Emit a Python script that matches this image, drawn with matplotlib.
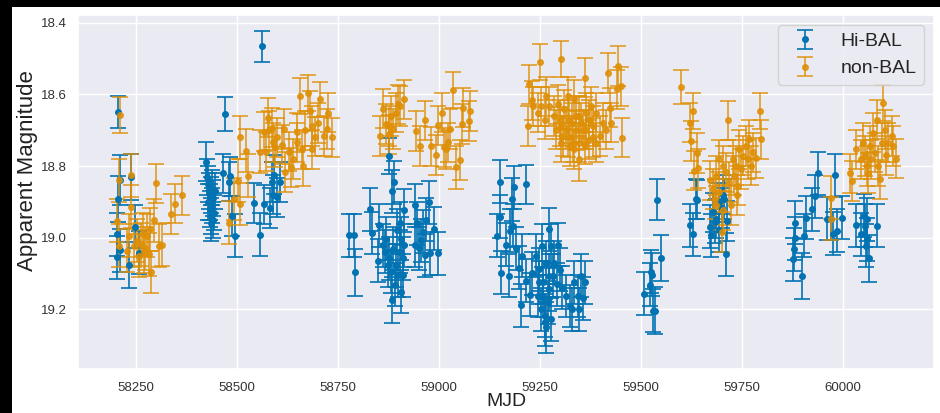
import matplotlib
matplotlib.use('Agg')
import matplotlib.pyplot as plt
import seaborn as sns
from matplotlib.patches import Rectangle

# ---------------- data ----------------
hibal_mjd = [
    58206, 58209, 58205, 58237, 58202, 58210, 58233, 58246, 58257, 58203,
    58422, 58426, 58428, 58430, 58432, 58433, 58435, 58436, 58437, 58438,
    58440, 58441, 58443, 58445, 58434, 58429, 58471, 58465, 58480, 58483,
    58487, 58494, 58541, 58556, 58562, 58567, 58582, 58586, 58592, 58598,
    58606, 58588,
    58776, 58788, 58791, 58829, 58835, 58850, 58848, 58877, 58888, 58884,
    58912, 58940, 58975, 58987, 58996, 58939, 58956, 58960, 58964, 58977,
    58884, 58906, 58860, 58869, 58877, 58885, 58894, 58902, 58910, 58914,
    58898, 58890, 58865, 58873, 58881, 58906, 58910, 58895, 58903, 58945,
    58950, 58968,
    59151, 59186, 59214, 59180, 59151, 59144, 59182, 59176, 59153, 59174,
    59197, 59202, 59224, 59295, 59273, 59291, 59265, 59277, 59314, 59323,
    59343, 59360, 59351, 59335, 59346, 59240, 59248, 59257, 59265, 59273,
    59244, 59252, 59261, 59269, 59281, 59285, 59277, 59255, 59247, 59258,
    59271, 59263, 59165, 59190, 59205, 59230, 59215, 59300, 59305, 59330,
    59355,
    59540, 59550, 59508, 59521, 59525, 59526, 59529, 59535, 59622, 59628,
    59635, 59639, 59671, 59682, 59702, 59699, 59710, 59713, 59692, 59686,
    59677, 59694, 59706, 59674,
    59882, 59880, 59878, 59876, 59898, 59903, 59908, 59923, 59931, 59938,
    59980, 59969, 59974, 59986, 59997, 59959, 60033, 60045, 60051, 60058,
    60064, 60083, 60054, 60056, 60059,
]
hibal_mag = [
    18.650, 18.840, 18.892, 18.830, 19.055, 19.035, 19.077, 18.969, 19.042, 18.990,
    18.788, 18.830, 18.850, 18.870, 18.900, 18.920, 18.880, 18.940, 18.860, 18.910,
    18.950, 18.890, 18.930, 18.870, 18.960, 18.900, 18.654, 18.820, 18.844, 18.829,
    18.940, 18.995, 18.903, 18.992, 18.466, 18.907, 18.917, 18.845, 18.824, 18.887,
    18.845, 18.880,
    18.994, 18.994, 19.097, 18.921, 18.987, 18.966, 19.065, 18.771, 18.845, 18.871,
    18.924, 18.910, 18.901, 18.975, 19.044, 19.021, 19.007, 18.984, 19.049, 19.044,
    19.174, 19.151, 19.021, 19.003, 19.058, 19.031, 19.077, 19.040, 19.058, 19.021,
    19.105, 19.132, 19.040, 19.077, 19.095, 19.003, 19.105, 18.980, 18.960, 18.960,
    19.030, 18.950,
    18.844, 18.859, 18.851, 18.893, 18.941, 18.995, 18.967, 18.981, 19.098, 19.107,
    19.084, 19.189, 19.160, 19.020, 18.977, 19.130, 19.251, 19.228, 19.163, 19.191,
    19.163, 19.125, 19.107, 19.125, 19.200, 19.051, 19.088, 19.125, 19.070, 19.144,
    19.163, 19.200, 19.218, 19.181, 19.107, 19.070, 19.023, 19.023, 19.125, 19.163,
    19.107, 19.237, 19.020, 19.030, 19.050, 19.100, 19.120, 19.090, 19.140, 19.200,
    19.170,
    18.894, 19.058, 19.157, 19.132, 19.095, 19.103, 19.204, 19.204, 18.966, 18.990,
    18.892, 18.894, 18.970, 18.956, 18.880, 18.917, 19.047, 18.954, 18.980, 18.947,
    18.929, 18.901, 18.892, 18.994,
    18.958, 19.002, 19.032, 19.060, 19.107, 18.995, 18.944, 18.921, 18.884, 18.820,
    18.826, 18.947, 18.989, 18.981, 18.944, 18.947, 18.965, 18.991, 18.939, 19.005,
    19.058, 18.967, 18.967, 19.023, 18.948,
]
hibal_err = [
    0.045, 0.070, 0.065, 0.065, 0.060, 0.060, 0.065, 0.060, 0.060, 0.060,
    0.055, 0.050, 0.050, 0.050, 0.050, 0.050, 0.050, 0.050, 0.050, 0.050,
    0.050, 0.050, 0.050, 0.050, 0.050, 0.050, 0.047, 0.055, 0.055, 0.055,
    0.055, 0.060, 0.055, 0.060, 0.042, 0.055, 0.055, 0.055, 0.055, 0.055,
    0.055, 0.055,
    0.060, 0.060, 0.065, 0.060, 0.060, 0.060, 0.060, 0.050, 0.060, 0.060,
    0.060, 0.060, 0.060, 0.060, 0.060, 0.060, 0.060, 0.060, 0.060, 0.060,
    0.065, 0.060, 0.060, 0.060, 0.060, 0.060, 0.060, 0.060, 0.060, 0.060,
    0.060, 0.060, 0.060, 0.060, 0.060, 0.060, 0.060, 0.060, 0.060, 0.060,
    0.060, 0.060,
    0.060, 0.060, 0.055, 0.060, 0.060, 0.060, 0.060, 0.060, 0.060, 0.060,
    0.060, 0.060, 0.060, 0.060, 0.060, 0.060, 0.070, 0.060, 0.060, 0.060,
    0.060, 0.060, 0.060, 0.060, 0.060, 0.060, 0.060, 0.060, 0.060, 0.060,
    0.060, 0.060, 0.060, 0.060, 0.060, 0.060, 0.060, 0.060, 0.060, 0.060,
    0.060, 0.065, 0.060, 0.060, 0.060, 0.060, 0.060, 0.060, 0.060, 0.060,
    0.060,
    0.057, 0.064, 0.060, 0.060, 0.060, 0.060, 0.060, 0.065, 0.060, 0.060,
    0.055, 0.055, 0.060, 0.060, 0.055, 0.055, 0.060, 0.055, 0.060, 0.055,
    0.055, 0.055, 0.055, 0.060,
    0.060, 0.060, 0.060, 0.060, 0.065, 0.060, 0.060, 0.060, 0.060, 0.060,
    0.060, 0.060, 0.060, 0.060, 0.060, 0.060, 0.060, 0.060, 0.060, 0.060,
    0.065, 0.060, 0.060, 0.060, 0.060,
]

nonbal_mjd = [
    58209, 58207, 58238, 58203, 58236, 58232, 58207, 58298, 58364, 58345,
    58335, 58294, 58287, 58313, 58306, 58267, 58277, 58252, 58261, 58273,
    58244, 58281, 58269, 58257, 58284, 58228,
    58506, 58522, 58526, 58503, 58507, 58480, 58493, 58557, 58567, 58576,
    58586, 58588, 58594, 58598, 58616, 58619, 58633, 58639, 58649, 58656,
    58675, 58681, 58685, 58693, 58705, 58714, 58722, 58726, 58734, 58660,
    58664, 58648, 58685, 58580, 58572, 58610, 58628, 58668, 58700,
    58860, 58854, 58869, 58875, 58881, 58892, 58904, 58912, 58885, 58877,
    58898, 58942, 58953, 58964, 58980, 58991, 58998, 59006, 59012, 59018,
    59035, 59041, 59051, 59056, 59060, 59074, 59076, 59027, 59022,
    59219, 59222, 59249, 59302, 59229, 59252, 59265, 59294, 59298, 59314,
    59347, 59331, 59364, 59360, 59417, 59442, 59450, 59440, 59452, 59422,
    59405, 59389, 59376, 59372, 59339, 59322, 59310, 59306, 59290, 59285,
    59273, 59261, 59244, 59232, 59347, 59355, 59380, 59397, 59413, 59425,
    59323, 59335, 59302, 59364, 59389, 59351, 59318, 59335, 59300, 59320,
    59340, 59360, 59380, 59330, 59345, 59370,
    59599, 59628, 59624, 59630, 59639, 59641, 59620, 59715, 59671, 59677,
    59686, 59694, 59702, 59710, 59723, 59737, 59727, 59735, 59743, 59752,
    59760, 59768, 59776, 59785, 59794, 59797, 59764, 59772, 59694, 59686,
    59699, 59702, 59682, 59718, 59731, 59739, 59747,
    59971, 59969, 60017, 60022, 60033, 60045, 60054, 60058, 60062, 60066,
    60074, 60083, 60087, 60091, 60099, 60103, 60097, 60111, 60120, 60124,
    60130, 60107, 60078, 60070, 60050,
]
nonbal_mag = [
    18.658, 18.840, 18.826, 18.953, 18.914, 18.995, 19.023, 18.848, 18.882, 18.905,
    18.934, 18.952, 19.096, 19.020, 19.023, 18.990, 18.995, 19.009, 19.018, 19.030,
    19.023, 19.046, 19.040, 19.050, 18.976, 19.037,
    18.720, 18.757, 18.827, 18.841, 18.906, 18.958, 18.892, 18.760, 18.704, 18.665,
    18.693, 18.734, 18.748, 18.720, 18.697, 18.817, 18.804, 18.780, 18.734, 18.605,
    18.595, 18.646, 18.688, 18.718, 18.614, 18.716, 18.697, 18.651, 18.720, 18.753,
    18.800, 18.706, 18.753, 18.700, 18.760, 18.740, 18.760, 18.700, 18.680,
    18.640, 18.716, 18.683, 18.688, 18.660, 18.651, 18.632, 18.614, 18.697, 18.711,
    18.628, 18.702, 18.744, 18.672, 18.745, 18.769, 18.686, 18.651, 18.748, 18.753,
    18.588, 18.804, 18.783, 18.683, 18.637, 18.674, 18.646, 18.697, 18.734,
    18.688, 18.572, 18.510, 18.500, 18.616, 18.633, 18.605, 18.628, 18.670, 18.698,
    18.781, 18.735, 18.698, 18.553, 18.540, 18.521, 18.577, 18.586, 18.721, 18.637,
    18.679, 18.651, 18.633, 18.726, 18.660, 18.670, 18.642, 18.716, 18.698, 18.660,
    18.633, 18.670, 18.651, 18.633, 18.735, 18.698, 18.688, 18.716, 18.698, 18.679,
    18.744, 18.753, 18.735, 18.651, 18.735, 18.679, 18.605, 18.614, 18.690, 18.720,
    18.700, 18.740, 18.720, 18.680, 18.660, 18.670,
    18.580, 18.646, 18.730, 18.813, 18.764, 18.806, 18.679, 18.672, 18.840, 18.864,
    18.827, 18.781, 18.799, 18.818, 18.910, 18.881, 18.781, 18.799, 18.753, 18.771,
    18.744, 18.725, 18.762, 18.778, 18.646, 18.725, 18.781, 18.799, 18.873, 18.910,
    18.984, 18.924, 18.892, 18.845, 18.827, 18.855, 18.808,
    18.888, 18.947, 18.820, 18.842, 18.753, 18.781, 18.772, 18.800, 18.819, 18.744,
    18.707, 18.670, 18.800, 18.837, 18.623, 18.698, 18.735, 18.735, 18.716, 18.744,
    18.779, 18.770, 18.763, 18.781, 18.735,
]
nonbal_err = [
    0.050, 0.060, 0.060, 0.060, 0.060, 0.060, 0.060, 0.055, 0.055, 0.055,
    0.055, 0.060, 0.060, 0.060, 0.060, 0.060, 0.060, 0.060, 0.060, 0.060,
    0.060, 0.060, 0.060, 0.060, 0.060, 0.060,
    0.060, 0.060, 0.060, 0.060, 0.060, 0.060, 0.060, 0.060, 0.055, 0.055,
    0.055, 0.055, 0.055, 0.055, 0.055, 0.055, 0.055, 0.055, 0.055, 0.050,
    0.050, 0.055, 0.055, 0.055, 0.050, 0.055, 0.055, 0.055, 0.055, 0.055,
    0.055, 0.055, 0.055, 0.055, 0.055, 0.055, 0.055, 0.055, 0.055,
    0.055, 0.055, 0.055, 0.055, 0.055, 0.055, 0.055, 0.055, 0.055, 0.055,
    0.055, 0.055, 0.055, 0.055, 0.055, 0.055, 0.055, 0.055, 0.055, 0.055,
    0.050, 0.060, 0.055, 0.055, 0.055, 0.055, 0.055, 0.055, 0.055,
    0.055, 0.055, 0.050, 0.050, 0.055, 0.055, 0.055, 0.055, 0.055, 0.055,
    0.060, 0.055, 0.055, 0.055, 0.055, 0.055, 0.055, 0.055, 0.055, 0.055,
    0.055, 0.055, 0.055, 0.055, 0.055, 0.055, 0.055, 0.055, 0.055, 0.055,
    0.055, 0.055, 0.055, 0.055, 0.055, 0.055, 0.055, 0.055, 0.055, 0.055,
    0.055, 0.055, 0.055, 0.055, 0.055, 0.055, 0.055, 0.055, 0.055, 0.055,
    0.055, 0.055, 0.055, 0.055, 0.055, 0.055,
    0.047, 0.050, 0.055, 0.055, 0.055, 0.055, 0.055, 0.055, 0.055, 0.055,
    0.055, 0.055, 0.055, 0.055, 0.055, 0.055, 0.055, 0.055, 0.055, 0.055,
    0.055, 0.055, 0.055, 0.055, 0.050, 0.055, 0.055, 0.055, 0.055, 0.055,
    0.055, 0.055, 0.055, 0.055, 0.055, 0.055, 0.055,
    0.060, 0.060, 0.055, 0.055, 0.055, 0.055, 0.055, 0.055, 0.055, 0.055,
    0.055, 0.055, 0.055, 0.055, 0.050, 0.055, 0.055, 0.055, 0.055, 0.055,
    0.055, 0.055, 0.055, 0.055, 0.055,
]

xticks = [58250, 58500, 58750, 59000, 59250, 59500, 59750, 60000]
yticks = [18.4, 18.6, 18.8, 19.0, 19.2]

assert len(hibal_mjd) == len(hibal_mag) == len(hibal_err)
assert len(nonbal_mjd) == len(nonbal_mag) == len(nonbal_err)

# ---------------- plot ----------------
sns.set_theme(style='darkgrid')
plt.rcParams['font.family'] = ['Liberation Sans', 'DejaVu Sans']

blue = '#0173b2'
orange = '#de8f05'

W, H = 940, 413
fig = plt.figure(figsize=(W / 100, H / 100), dpi=100, facecolor='black')
# white page inside the dark screenshot border
fig.patches.append(Rectangle((12 / W, 0), 1, 1 - 7 / H, transform=fig.transFigure,
                             facecolor='white', edgecolor='none', zorder=-10))
ax = fig.add_axes([78 / W, 1 - 369 / H, (934 - 78) / W, (369 - 15) / H])

ax.errorbar(hibal_mjd, hibal_mag, yerr=hibal_err, fmt='o', ms=4, capsize=6,
            elinewidth=1.2, capthick=1.2, color=blue, label='Hi-BAL')
ax.errorbar(nonbal_mjd, nonbal_mag, yerr=nonbal_err, fmt='o', ms=4, capsize=6,
            elinewidth=1.2, capthick=1.2, color=orange, alpha=0.85, label='non-BAL')

ax.set_xlim(58106, 60225)
ax.set_ylim(19.367, 18.378)
ax.set_xticks(xticks)
ax.set_yticks(yticks)
ax.set_yticklabels([f'{v:.1f}' for v in yticks])
ax.tick_params(labelsize=9.5, colors='#333333')
ax.tick_params(axis='y', pad=2)
ax.set_xlabel('MJD', fontsize=14, color='#222222', labelpad=-1)
ax.set_ylabel('Apparent Magnitude', fontsize=16, color='#222222')
ax.yaxis.set_label_coords(-0.047, 0.56)
ax.legend(loc='upper right', fontsize=14)

fig.savefig('out.png', dpi=100, facecolor=fig.get_facecolor())
